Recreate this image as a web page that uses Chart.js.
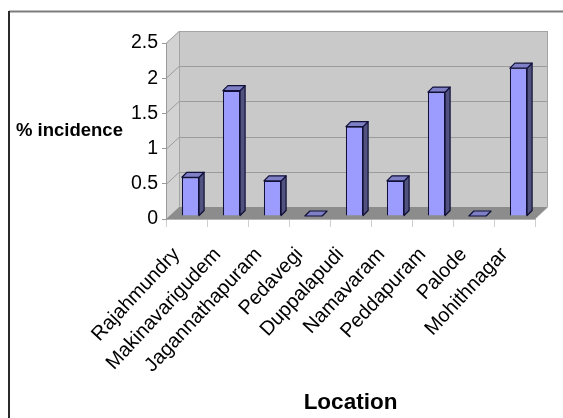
<!DOCTYPE html>
<html>
<head>
<meta charset="utf-8">
<script src="https://cdn.jsdelivr.net/npm/chart.js@4/dist/chart.umd.min.js"></script>
<style>
  html, body { margin: 0; padding: 0; background: #ffffff; }
  canvas { display: block; }
</style>
</head>
<body>
<canvas id="chart" width="563" height="418"></canvas>
<script>
// Locations surveyed and the % incidence recorded at each
const locations = [
  'Rajahmundry', 'Makinavarigudem', 'Jagannathapuram', 'Pedavegi',
  'Duppalapudi', 'Namavaram', 'Peddapuram', 'Palode', 'Mohithnagar'
];
const incidence = [0.55, 1.78, 0.5, 0, 1.27, 0.5, 1.76, 0, 2.1];
const yTickValues = [0, 0.5, 1, 1.5, 2, 2.5];

// Depth of the 3D box (back wall offset) and of each column
const WALL_DX = 13, WALL_DY = -12;
const BAR_SHIFT_X = 4, BAR_SHIFT_Y = -3;
const BAR_DX = 5, BAR_DY = -5;

const FONT = "'Liberation Sans', Arial, Helvetica, sans-serif";

function poly(ctx, pts) {
  ctx.beginPath();
  ctx.moveTo(pts[0][0], pts[0][1]);
  for (let i = 1; i < pts.length; i++) ctx.lineTo(pts[i][0], pts[i][1]);
  ctx.closePath();
}

// Frame, walls, floor and wall gridlines drawn behind the axes
const box3d = {
  id: 'box3d',
  beforeDraw(chart) {
    const { ctx, chartArea: a, scales } = chart;
    const yScale = scales.y;
    ctx.save();

    // outer frame
    ctx.lineWidth = 2;
    ctx.strokeStyle = '#7c7c7c';
    ctx.beginPath(); ctx.moveTo(9, 11.5); ctx.lineTo(563, 11.5); ctx.stroke();
    ctx.strokeStyle = '#2a2a2a';
    ctx.beginPath(); ctx.moveTo(9, 11); ctx.lineTo(9, 418); ctx.stroke();

    const L = a.left, R = a.right, T = a.top, B = a.bottom;

    // left wall
    poly(ctx, [[L, T], [L + WALL_DX, T + WALL_DY], [L + WALL_DX, B + WALL_DY], [L, B]]);
    ctx.fillStyle = '#d2d2d2';
    ctx.fill();

    // back wall
    ctx.fillStyle = '#c9c9c9';
    ctx.fillRect(L + WALL_DX, T + WALL_DY, R - L, B - T);

    // floor
    poly(ctx, [[L, B], [L + WALL_DX, B + WALL_DY], [R + WALL_DX, B + WALL_DY], [R, B]]);
    ctx.fillStyle = '#8c8c8c';
    ctx.fill();

    // gridlines running across the left and back walls
    ctx.lineWidth = 1;
    ctx.strokeStyle = '#9c9c9c';
    yTickValues.forEach(v => {
      if (v === 0) return;
      const py = Math.round(yScale.getPixelForValue(v)) + 0.5;
      ctx.beginPath();
      ctx.moveTo(L, py);
      ctx.lineTo(L + WALL_DX, py + WALL_DY);
      ctx.lineTo(R + WALL_DX, py + WALL_DY);
      ctx.stroke();
    });

    // wall edges
    ctx.strokeStyle = '#a4a4a4';
    ctx.beginPath();
    ctx.moveTo(L + WALL_DX + 0.5, B + WALL_DY);
    ctx.lineTo(L + WALL_DX + 0.5, T + WALL_DY + 0.5);
    ctx.lineTo(R + WALL_DX - 0.5, T + WALL_DY + 0.5);
    ctx.lineTo(R + WALL_DX - 0.5, B + WALL_DY);
    ctx.lineTo(R, B);
    ctx.stroke();

    ctx.restore();
  }
};

// Columns sit inside the box: shift their front faces back, then add side and top faces
const columns3d = {
  id: 'columns3d',
  beforeDatasetsDraw(chart) {
    chart.ctx.save();
    chart.ctx.translate(BAR_SHIFT_X, BAR_SHIFT_Y);
  },
  afterDatasetsDraw(chart) {
    const ctx = chart.ctx;
    ctx.restore();
    ctx.save();
    ctx.lineWidth = 1.2;
    ctx.strokeStyle = '#10103a';
    ctx.lineJoin = 'round';
    chart.getDatasetMeta(0).data.forEach(el => {
      const { x, y, base, width } = el.getProps(['x', 'y', 'base', 'width'], true);
      const l = x - width / 2 + BAR_SHIFT_X;
      const r = x + width / 2 + BAR_SHIFT_X;
      const t = y + BAR_SHIFT_Y;
      const b = base + BAR_SHIFT_Y;
      // side face
      if (b - t > 0.5) {
        poly(ctx, [[r, t], [r + BAR_DX, t + BAR_DY], [r + BAR_DX, b + BAR_DY], [r, b]]);
        ctx.fillStyle = '#52527e';
        ctx.fill();
        ctx.stroke();
      }
      // top face
      poly(ctx, [[l, t], [l + BAR_DX, t + BAR_DY], [r + BAR_DX, t + BAR_DY], [r, t]]);
      ctx.fillStyle = '#7f7fc6';
      ctx.fill();
      ctx.stroke();
    });
    ctx.restore();
  }
};

// Horizontal value-axis caption
const valueCaption = {
  id: 'valueCaption',
  afterDraw(chart) {
    const ctx = chart.ctx;
    ctx.save();
    ctx.font = 'bold 18.5px ' + FONT;
    ctx.fillStyle = '#000000';
    ctx.textAlign = 'left';
    ctx.textBaseline = 'middle';
    ctx.fillText('% incidence', 16, 131);
    ctx.restore();
  }
};

new Chart(document.getElementById('chart'), {
  type: 'bar',
  data: {
    labels: locations,
    datasets: [{
      label: '% incidence',
      data: incidence,
      backgroundColor: '#9c9cff',
      borderColor: '#10103a',
      borderWidth: 1.2,
      barPercentage: 0.42,
      categoryPercentage: 1.0
    }]
  },
  options: {
    responsive: false,
    devicePixelRatio: 1,
    animation: false,
    layout: { padding: { left: 0, top: 43, right: 28, bottom: 0 } },
    plugins: {
      legend: { display: false },
      tooltip: { enabled: false }
    },
    scales: {
      x: {
        afterFit(scale) { scale.height = 199; },
        grid: {
          display: true,
          offset: true,
          drawOnChartArea: false,
          drawTicks: true,
          tickLength: 8,
          color: '#cfcfcf'
        },
        border: { display: true, color: '#b4b4b4' },
        ticks: {
          autoSkip: false,
          minRotation: 47,
          maxRotation: 47,
          padding: 16,
          labelOffset: -10,
          color: '#000000',
          font: { family: FONT, size: 20 }
        },
        title: {
          display: true,
          text: 'Location',
          color: '#000000',
          font: { family: FONT, size: 22.5, weight: 'bold' },
          padding: { top: 0, bottom: 2 }
        }
      },
      y: {
        min: 0,
        max: 2.5,
        afterFit(scale) { scale.width = 166; },
        afterBuildTicks(scale) { scale.ticks = yTickValues.map(v => ({ value: v })); },
        grid: {
          display: true,
          drawOnChartArea: false,
          drawTicks: true,
          tickLength: 4,
          color: '#9a9a9a'
        },
        border: { display: true, color: '#9a9a9a' },
        ticks: {
          padding: 4,
          color: '#000000',
          font: { family: FONT, size: 19.5 },
          callback: v => String(v)
        }
      }
    }
  },
  plugins: [box3d, columns3d, valueCaption]
});
</script>
</body>
</html>
